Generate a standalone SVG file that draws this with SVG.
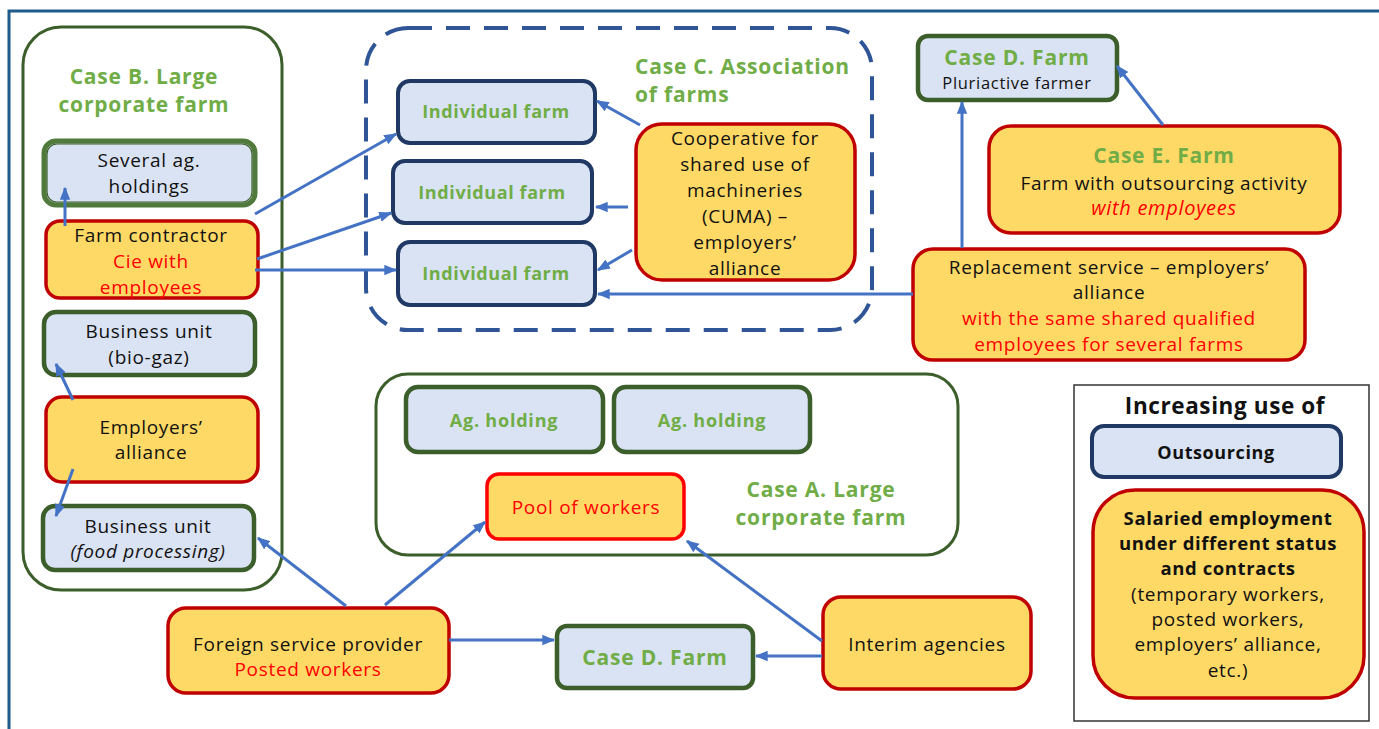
<svg xmlns="http://www.w3.org/2000/svg" width="1379" height="729" viewBox="0 0 1379 729">
<style>
.bl{fill:#dae3f3}
.ye{fill:#ffd966}
.gs{stroke:#3b5e2b;stroke-width:4.5}
.ns{stroke:#1f3864;stroke-width:4}
.rs{stroke:#c00000;stroke-width:3.5}
.cont{fill:none;stroke:#3b5e2b;stroke-width:3}
text{font-family:"Open Sans","Liberation Sans",sans-serif;font-size:19px;letter-spacing:0.7px;fill:#111;text-anchor:middle}
.g{fill:#70ad47;font-weight:bold}
.h{font-size:21px;letter-spacing:0.8px}
.f{font-size:18px;letter-spacing:0.6px}
.r{fill:#ff0000}
.b{font-weight:bold}
.i{font-style:italic}
.con line{stroke:#4472c4;stroke-width:3;marker-end:url(#ah)}
</style>
<defs>
<marker id="ah" viewBox="0 0 10 8" refX="9" refY="4" markerWidth="13" markerHeight="11" orient="auto" markerUnits="userSpaceOnUse"><path d="M0,0 L10,4 L0,8 z" fill="#4472c4"/></marker>
</defs>
<rect width="1379" height="729" fill="#fff"/>
<path d="M9,729 V11 H1379" fill="none" stroke="#1f5c8c" stroke-width="3"/>

<g id="caseB">
<rect x="23" y="27" width="259" height="563" rx="38" class="cont"/>
<text x="144" y="84" class="g h">Case B. Large</text>
<text x="144" y="112" class="g h">corporate farm</text>
</g>
<g id="several">
<rect x="44" y="141" width="211" height="64" rx="12" class="bl" stroke="#4f7a3b" stroke-width="5"/>
<rect x="47" y="144" width="205" height="58" rx="10" fill="none" stroke="#3b5e2b" stroke-width="1.2"/>
<text x="149" y="167">Several ag.</text>
<text x="149" y="193">holdings</text>
</g>
<g id="contractor">
<rect x="46" y="221" width="212" height="77" rx="14" class="ye rs"/>
<text x="151" y="242">Farm contractor</text>
<text x="151" y="268" class="r">Cie with</text>
<text x="151" y="294" class="r">employees</text>
</g>
<g id="biogaz">
<rect x="44" y="312" width="211" height="63" rx="12" class="bl gs"/>
<text x="149" y="338">Business unit</text>
<text x="149" y="364">(bio-gaz)</text>
</g>
<g id="alliance">
<rect x="46" y="397" width="212" height="85" rx="16" class="ye rs"/>
<text x="151" y="434">Employers’</text>
<text x="151" y="459">alliance</text>
</g>
<g id="food">
<rect x="43" y="506" width="211" height="64" rx="12" class="bl gs"/>
<text x="148" y="533">Business unit</text>
<text x="148" y="558" class="i">(food processing)</text>
</g>

<g id="caseC">
<rect x="366" y="28" width="506" height="302" rx="42" fill="none" stroke="#2f5597" stroke-width="4" stroke-dasharray="24 14"/>
<text x="635" y="74" class="g h" style="text-anchor:start">Case C. Association</text>
<text x="635" y="102" class="g h" style="text-anchor:start">of farms</text>
</g>
<g id="if1">
<rect x="398" y="81" width="197" height="62" rx="12" class="bl ns"/>
<text x="496" y="118" class="g f">Individual farm</text>
</g>
<g id="if2">
<rect x="393" y="161" width="199" height="62" rx="12" class="bl ns"/>
<text x="492" y="199" class="g f">Individual farm</text>
</g>
<g id="if3">
<rect x="398" y="242" width="197" height="63" rx="12" class="bl ns"/>
<text x="496" y="280" class="g f">Individual farm</text>
</g>
<g id="cuma">
<rect x="636" y="124" width="219" height="156" rx="26" class="ye rs"/>
<text x="745" y="145">Cooperative for</text>
<text x="745" y="171">shared use of</text>
<text x="745" y="197">machineries</text>
<text x="745" y="223">(CUMA) –</text>
<text x="745" y="249">employers’</text>
<text x="745" y="275">alliance</text>
</g>

<g id="caseDtop">
<rect x="918" y="36" width="199" height="64" rx="10" class="bl gs"/>
<text x="1017" y="65" class="g h">Case D. Farm</text>
<text x="1017" y="89" style="font-size:16.5px">Pluriactive farmer</text>
</g>
<g id="caseE">
<rect x="989" y="126" width="351" height="107" rx="22" class="ye rs"/>
<text x="1164" y="163" class="g h">Case E. Farm</text>
<text x="1164" y="190">Farm with outsourcing activity</text>
<text x="1164" y="215" class="r i" style="font-size:20px">with employees</text>
</g>
<g id="replacement">
<rect x="913" y="249" width="392" height="111" rx="20" class="ye rs"/>
<text x="1109" y="274">Replacement service – employers’</text>
<text x="1109" y="299">alliance</text>
<text x="1109" y="325" class="r">with the same shared qualified</text>
<text x="1109" y="351" class="r">employees for several farms</text>
</g>

<g id="caseA">
<rect x="376" y="374" width="582" height="181" rx="32" class="cont"/>
<text x="821" y="497" class="g h">Case A. Large</text>
<text x="821" y="525" class="g h">corporate farm</text>
</g>
<g id="ag1">
<rect x="406" y="387" width="197" height="65" rx="12" class="bl gs"/>
<text x="504" y="427" class="g f" style="letter-spacing:0.8px">Ag. holding</text>
</g>
<g id="ag2">
<rect x="614" y="387" width="196" height="65" rx="12" class="bl gs"/>
<text x="712" y="427" class="g f" style="letter-spacing:0.8px">Ag. holding</text>
</g>
<g id="pool">
<rect x="487" y="474" width="197" height="65" rx="12" class="ye" stroke="#ff0000" stroke-width="3.5"/>
<text x="586" y="514" class="r">Pool of workers</text>
</g>

<g id="foreign">
<rect x="168" y="608" width="281" height="85" rx="18" class="ye rs"/>
<text x="308" y="651">Foreign service provider</text>
<text x="308" y="676" class="r">Posted workers</text>
</g>
<g id="caseDbottom">
<rect x="557" y="626" width="196" height="62" rx="10" class="bl gs"/>
<text x="655" y="665" class="g h">Case D. Farm</text>
</g>
<g id="interim">
<rect x="823" y="597" width="208" height="92" rx="18" class="ye rs"/>
<text x="927" y="651">Interim agencies</text>
</g>

<g id="legend">
<rect x="1074" y="385" width="295" height="336" fill="#fff" stroke="#333" stroke-width="1.5"/>
<text x="1225" y="414" class="b" style="font-size:22.5px;letter-spacing:0.6px">Increasing use of</text>
<rect x="1092" y="426" width="249" height="51" rx="12" class="bl ns"/>
<text x="1216" y="459" class="b f">Outsourcing</text>
<rect x="1093" y="490" width="271" height="208" rx="42" class="ye rs"/>
<text x="1228" y="525" class="b" style="font-size:18.5px;letter-spacing:0.6px">Salaried employment</text>
<text x="1228" y="550" class="b" style="font-size:18.5px;letter-spacing:0.6px">under different status</text>
<text x="1228" y="575" class="b" style="font-size:18.5px;letter-spacing:0.6px">and contracts</text>
<text x="1228" y="601">(temporary workers,</text>
<text x="1228" y="626">posted workers,</text>
<text x="1228" y="651">employers’ alliance,</text>
<text x="1228" y="677">etc.)</text>
</g>

<g id="connectors" class="con">
<line x1="65" y1="226" x2="65" y2="188"/>
<line x1="73" y1="400" x2="56" y2="364"/>
<line x1="73" y1="469" x2="56" y2="516"/>
<line x1="255" y1="214" x2="396" y2="134"/>
<line x1="257" y1="259" x2="391" y2="213"/>
<line x1="255" y1="270" x2="396" y2="270"/>
<line x1="640" y1="125" x2="597" y2="101"/>
<line x1="628" y1="207" x2="596" y2="207"/>
<line x1="632" y1="250" x2="598" y2="270"/>
<line x1="913" y1="294" x2="598" y2="294"/>
<line x1="962" y1="248" x2="962" y2="102"/>
<line x1="1163" y1="125" x2="1117" y2="66"/>
<line x1="346" y1="606" x2="258" y2="538"/>
<line x1="385" y1="605" x2="485" y2="522"/>
<line x1="449" y1="640" x2="554" y2="640"/>
<line x1="822" y1="656" x2="756" y2="656"/>
<line x1="822" y1="641" x2="687" y2="541"/>
</g>
</svg>
